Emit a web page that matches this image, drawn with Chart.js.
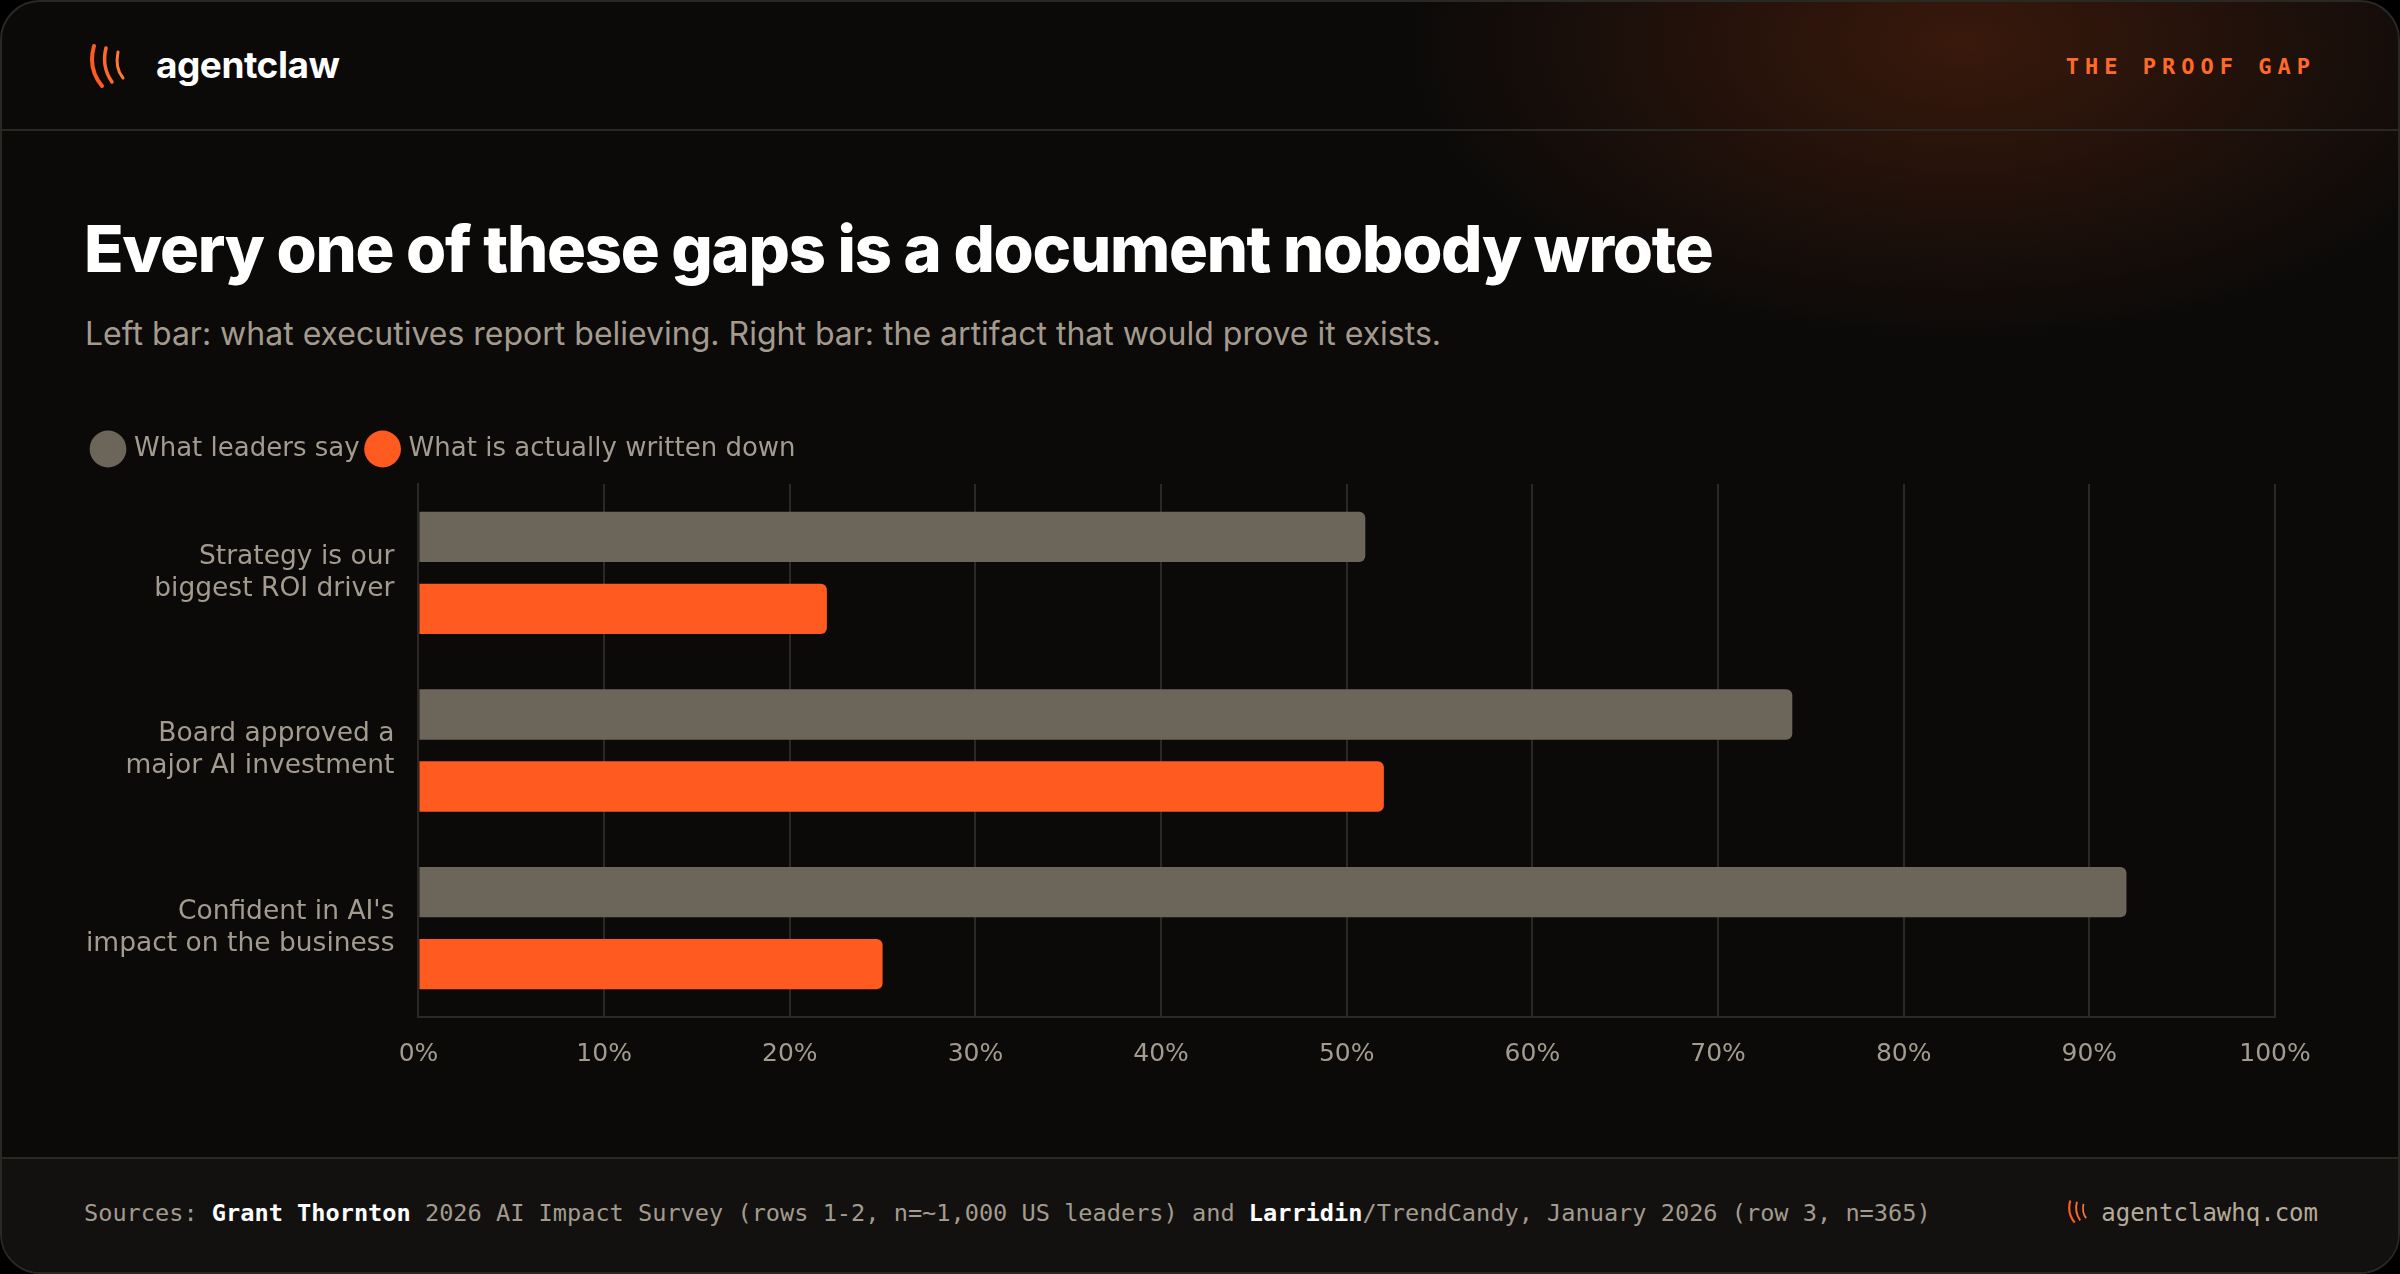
<!DOCTYPE html>
<html>
<head>
<meta charset="utf-8">
<script src="https://cdn.jsdelivr.net/npm/chart.js@4.4.1/dist/chart.umd.min.js"></script>
<style>
  html, body { margin: 0; padding: 0; background: #000; }
  body { width: 2400px; height: 1274px; overflow: hidden; }
  .card {
    position: absolute; left: 0; top: 0; width: 2396px; height: 1270px;
    border: 2px solid #2a2823; border-radius: 40px; overflow: hidden;
    background: radial-gradient(ellipse 560px 300px at 1960px 40px, rgba(120,45,15,0.42), rgba(11,10,9,0) 100%), #0b0a09;
  }
  .header { position: absolute; left: 0; top: 0; right: 0; height: 127px; border-bottom: 2px solid #2a2823; }
  .logo { position: absolute; left: 86px; top: 40px; }
  .brand { position: absolute; left: 154px; top: 40px; font: 700 37px Inter, sans-serif; color: #fff; letter-spacing: -0.5px; }
  .tag { position: absolute; right: 82px; top: 52px; font: 600 22px "DejaVu Sans Mono", monospace; color: #ff6a2a; letter-spacing: 6px; }
  h1 { position: absolute; left: 82px; top: 207px; margin: 0; font: 800 65px Inter, sans-serif; color: #fff; letter-spacing: -1.3px; }
  .sub { position: absolute; left: 83px; top: 312px; font: 400 32px Inter, sans-serif; color: #a39b8e; }
  .chartbox { position: absolute; left: 68px; top: 424px; width: 2282px; height: 665px; }
  .footer { position: absolute; left: 0; right: 0; bottom: 0; height: 113px; border-top: 2px solid #2a2823; background: #121110; }
  .src { position: absolute; left: 82px; top: 40px; font: 400 23.6px "DejaVu Sans Mono", monospace; color: #a39b8e; }
  .src b { color: #fff; font-weight: 600; }
  .site { position: absolute; right: 80px; top: 38px; font: 400 24px "DejaVu Sans Mono", monospace; color: #b5ab9a; }
  .site svg { vertical-align: -4px; margin-right: 12px; }
</style>
</head>
<body>
<div class="card">
  <div class="header">
    <svg class="logo" width="40" height="46" viewBox="0 0 40 46">
      <path d="M6 4 C2 18 4 32 14 44" stroke="#ff5a1f" stroke-width="4" fill="none" stroke-linecap="round"/>
      <path d="M18 6 C15 18 17 30 24 40" stroke="#ff6a2a" stroke-width="3.5" fill="none" stroke-linecap="round"/>
      <path d="M30 10 C28 20 29 29 35 36" stroke="#ff7a35" stroke-width="3" fill="none" stroke-linecap="round"/>
    </svg>
    <div class="brand">agentclaw</div>
    <div class="tag">THE PROOF GAP</div>
  </div>
  <h1>Every one of these gaps is a document nobody wrote</h1>
  <div class="sub">Left bar: what executives report believing. Right bar: the artifact that would prove it exists.</div>
  <div class="chartbox"><canvas id="gapChart"></canvas></div>
  <div class="footer">
    <div class="src">Sources: <b>Grant Thornton</b> 2026 AI Impact Survey (rows 1-2, n=~1,000 US leaders) and <b>Larridin</b>/TrendCandy, January 2026 (row 3, n=365)</div>
    <div class="site"><svg width="22" height="28" viewBox="0 0 40 46">
      <path d="M6 4 C2 18 4 32 14 44" stroke="#ff5a1f" stroke-width="4" fill="none"/>
      <path d="M18 6 C15 18 17 30 24 40" stroke="#ff6a2a" stroke-width="3.5" fill="none"/>
      <path d="M30 10 C28 20 29 29 35 36" stroke="#ff7a35" stroke-width="3" fill="none"/>
    </svg>agentclawhq.com</div>
  </div>
</div>
<script>
// Chart data
const categories = [
    ['Strategy is our', 'biggest ROI driver'],
    ['Board approved a', 'major AI investment'],
    ["Confident in AI's", 'impact on the business']
];
const leadersSay = [51, 74, 92];
const writtenDown = [22, 52, 25];
const xTicks = [0, 10, 20, 30, 40, 50, 60, 70, 80, 90, 100];

// extra space under the legend, and nudge it right
const legendMargin = {
    id: 'legendMargin',
    beforeInit(chart) {
        const fit = chart.legend.fit;
        chart.legend.fit = function () {
            fit.bind(chart.legend)();
            this.height += 12;
        };
    },
    afterLayout(chart) {
        chart.legend.left += 15;
        chart.legend.right += 15;
    }
};

document.addEventListener('DOMContentLoaded', () => {
    const ctx = document.getElementById('gapChart').getContext('2d');
    Chart.defaults.font.family = '"DejaVu Sans", sans-serif';
    Chart.defaults.color = '#a39b8e';

    new Chart(ctx, {
        type: 'bar',
        data: {
            labels: categories,
            datasets: [
                {
                    label: 'What leaders say',
                    data: leadersSay,
                    backgroundColor: '#6c6559',
                    borderRadius: { topRight: 6, bottomRight: 6 },
                    borderSkipped: false
                },
                {
                    label: 'What is actually written down',
                    data: writtenDown,
                    backgroundColor: '#ff5a1f',
                    borderRadius: { topRight: 6, bottomRight: 6 },
                    borderSkipped: false
                }
            ]
        },
        options: {
            indexAxis: 'y',
            responsive: true,
            maintainAspectRatio: false,
            animation: false,
            categoryPercentage: 0.81,
            barPercentage: 0.70,
            layout: { padding: { right: 77 } },
            plugins: {
                tooltip: { enabled: false },
                legend: {
                    position: 'top',
                    align: 'start',
                    labels: {
                        usePointStyle: true,
                        pointStyle: 'circle',
                        boxWidth: 34,
                        boxHeight: 34,
                        padding: 10,
                        font: { size: 26 },
                        color: '#a39b8e'
                    }
                }
            },
            scales: {
                x: {
                    min: 0,
                    max: 100,
                    afterBuildTicks: axis => { axis.ticks = xTicks.map(v => ({ value: v })); },
                    ticks: { callback: v => v + '%', font: { size: 25 }, color: '#a39b8e', padding: 22 },
                    grid: { color: '#2b2926', lineWidth: 2, drawTicks: false },
                    border: { color: '#2b2926', width: 2 }
                },
                y: {
                    ticks: { font: { size: 26.5 }, color: '#a39b8e', padding: 16 },
                    grid: { display: false },
                    border: { color: '#2b2926', width: 2 }
                }
            }
        },
        plugins: [legendMargin]
    });
});
</script>
</body>
</html>
